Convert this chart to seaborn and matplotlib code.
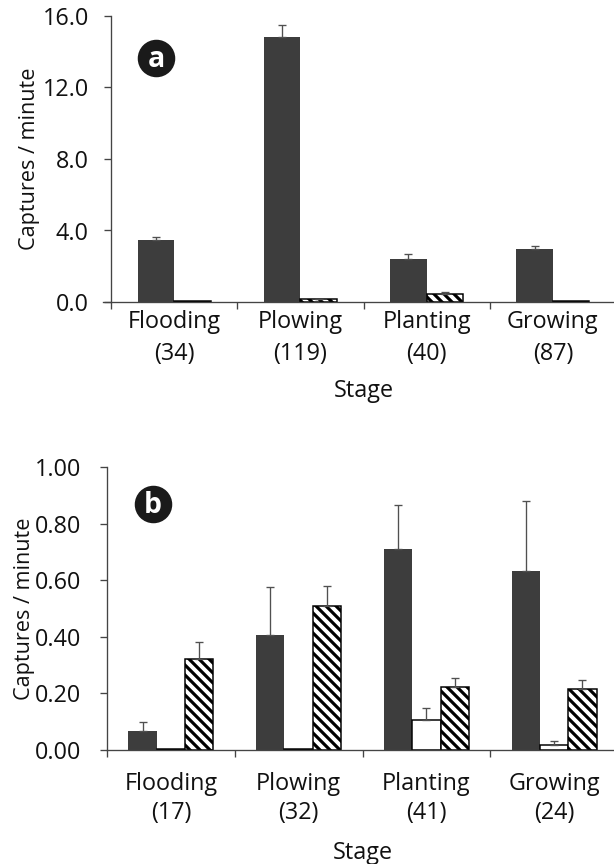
import matplotlib
matplotlib.use("Agg")
import matplotlib.pyplot as plt
import matplotlib.transforms as mtransforms
import seaborn as sns
import pandas as pd
import numpy as np

# ---------------- data ----------------
stages = ["Flooding", "Plowing", "Planting", "Growing"]
n_a = [34, 119, 40, 87]
n_b = [17, 32, 41, 24]

series_a = ["Solid", "Striped"]
a_solid = [3.46, 14.8, 2.40, 2.96]
a_solid_err = [0.19, 0.70, 0.26, 0.15]
a_striped = [0.03, 0.15, 0.43, 0.03]
a_striped_err = [0.0, 0.03, 0.12, 0.0]

series_b = ["Solid", "Open", "Striped"]
b_solid = [0.067, 0.406, 0.712, 0.631]
b_solid_err = [0.031, 0.170, 0.152, 0.249]
b_open = [0.002, 0.002, 0.106, 0.016]
b_open_err = [0.0, 0.0, 0.041, 0.017]
b_striped = [0.321, 0.509, 0.222, 0.216]
b_striped_err = [0.061, 0.071, 0.031, 0.031]

yticks_a = [0.0, 4.0, 8.0, 12.0, 16.0]
yticks_b = [0.0, 0.2, 0.4, 0.6, 0.8, 1.0]

# ---------------- style ----------------
sns.set_style("white")
plt.rcParams["font.family"] = ["Open Sans", "DejaVu Sans"]
plt.rcParams["hatch.linewidth"] = 1.9
plt.rcParams["hatch.color"] = "black"

DARK = "#3d3d3d"
AXC = "#444444"
ERRC = "#505050"
TXT = "#111111"
FS = 14
palette_a = {"Solid": DARK, "Striped": "white"}
palette_b = {"Solid": DARK, "Open": "white", "Striped": "white"}

DPI = 120
fig = plt.figure(figsize=(614 / DPI, 864 / DPI), dpi=DPI)
ax_a = fig.add_axes([111 / 614, 1 - 302 / 864, 505 / 614, 286 / 864])
ax_b = fig.add_axes([107 / 614, 1 - 750 / 864, 511 / 614, 283 / 864])

df_a = pd.DataFrame({
    "Stage": stages * 2,
    "Series": [series_a[0]] * 4 + [series_a[1]] * 4,
    "Rate": a_solid + a_striped,
})
err_a = {"Solid": a_solid_err, "Striped": a_striped_err}

df_b = pd.DataFrame({
    "Stage": stages * 3,
    "Series": [series_b[0]] * 4 + [series_b[1]] * 4 + [series_b[2]] * 4,
    "Rate": b_solid + b_open + b_striped,
})
err_b = {"Solid": b_solid_err, "Open": b_open_err, "Striped": b_striped_err}


def draw(ax, df, order_series, palette, errs, width, yticks, fmt, ns,
         tick_pad_y, tick_pad_x, linesp, label_shift, letter, badge_xy,
         xlabel_y, capsize, spine_left):
    sns.barplot(data=df, x="Stage", y="Rate", hue="Series", order=stages,
                hue_order=order_series, palette=palette, width=width,
                errorbar=None, ax=ax, legend=False, saturation=1)
    for cont, name in zip(ax.containers, order_series):
        for i, p in enumerate(cont.patches):
            if name == "Striped":
                p.set_hatch("\\\\\\\\")
                p.set_edgecolor("black")
                p.set_linewidth(0.9)
            elif name == "Open":
                p.set_edgecolor("black")
                p.set_linewidth(0.9)
            else:
                p.set_edgecolor(DARK)
                p.set_linewidth(0)
            e = errs[name][i]
            if e > 0:
                xc = p.get_x() + p.get_width() / 2
                h = p.get_height()
                ax.errorbar([xc], [h], yerr=[[0], [e]], fmt="none",
                            ecolor=ERRC, elinewidth=0.8, capsize=capsize,
                            capthick=0.8, zorder=1)
    ax.set_xlim(-0.5, 3.5)
    ax.set_ylim(yticks[0], yticks[-1])
    ax.set_yticks(yticks)
    ax.set_yticklabels([fmt.format(v) for v in yticks])
    ax.set_xticks(range(len(stages)))
    ax.set_xticklabels([f"{s}\n({n})" for s, n in zip(stages, ns)],
                       linespacing=linesp)
    if label_shift:
        off = mtransforms.ScaledTranslation(label_shift / DPI, 0,
                                            fig.dpi_scale_trans)
        for lab in ax.get_xticklabels():
            lab.set_transform(lab.get_transform() + off)
    ax.set_xticks([-0.5, 0.5, 1.5, 2.5, 3.5], minor=True)
    ax.tick_params(axis="x", which="major", length=0, pad=tick_pad_x,
                   labelsize=FS, colors=TXT)
    ax.tick_params(axis="x", which="minor", length=4.2, width=0.8,
                   color=AXC, direction="out", bottom=True)
    ax.tick_params(axis="y", length=4.2, width=0.8, color=AXC,
                   direction="out", pad=tick_pad_y, labelsize=FS,
                   left=True, labelcolor=TXT)
    for s in ["top", "right"]:
        ax.spines[s].set_visible(False)
    for s in ["left", "bottom"]:
        ax.spines[s].set_color(AXC)
        ax.spines[s].set_linewidth(0.8)
    ax.spines["bottom"].set_bounds(spine_left, 3.5)
    ax.set_ylabel("Captures / minute", fontsize=13, color=TXT)
    ax.yaxis.set_label_coords(-0.140, 0.5)
    ax.set_xlabel("Stage", fontsize=FS, color=TXT)
    ax.xaxis.set_label_coords(0.5, xlabel_y)
    ax.plot([badge_xy[0]], [badge_xy[1]], marker="o", ms=21.5, color="#1a1a1a",
            transform=ax.transAxes, clip_on=False, zorder=5)
    ax.text(badge_xy[0], badge_xy[1] - 0.004, letter, transform=ax.transAxes,
            ha="center", va="center", color="white", fontsize=17,
            fontweight="bold", zorder=6)


draw(ax_a, df_a, series_a, palette_a, err_a, 0.58, yticks_a, "{:.1f}", n_a,
     9.0, 5.0, 1.42, -6, "a", (0.089, 0.853), -0.269, 2.4, -0.563)
draw(ax_b, df_b, series_b, palette_b, err_b, 0.665, yticks_b, "{:.2f}", n_b,
     11.5, 13.2, 1.26, 0, "b", (0.090, 0.869), -0.3206, 2.2, -0.5)

fig.savefig("out.png", dpi=DPI)
